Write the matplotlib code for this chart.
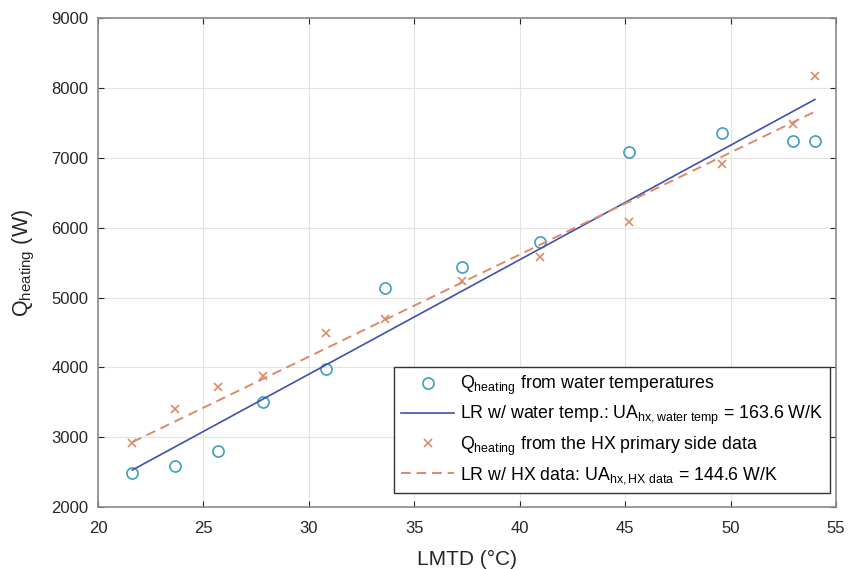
import matplotlib
matplotlib.use("Agg")
import matplotlib.pyplot as plt

# LMTD values (deg C) and heating rates (W)
lmtd = [21.63, 23.65, 25.7, 27.8, 30.8, 33.6, 37.25, 40.95, 45.2, 49.6, 52.95, 54.0]
q_water = [2480, 2590, 2800, 3500, 3980, 5140, 5440, 5800, 7090, 7360, 7240, 7240]
q_hx = [2910, 3410, 3720, 3870, 4490, 4690, 5240, 5580, 6090, 6920, 7490, 8180]

# regression line end points
lr_x = [21.63, 54.0]
lr_water = [2530, 7840]
lr_hx = [2930, 7665]

plt.rcParams['font.family'] = ['Liberation Sans', 'DejaVu Sans']
plt.rcParams['mathtext.fontset'] = 'custom'
plt.rcParams['mathtext.rm'] = 'Liberation Sans'
plt.rcParams['mathtext.it'] = 'Liberation Sans'
plt.rcParams['mathtext.default'] = 'regular'

fig = plt.figure(figsize=(8.51, 5.69), dpi=100)
ax = fig.add_axes([0.1152, 0.109, 0.8672, 0.8585])

ax.plot(lmtd, q_water, 'o', mfc='none', mec='#3f9fbf', ms=8, mew=1.2,
        label=r'Q$_{heating}$ from water temperatures')
ax.plot(lr_x, lr_water, '-', color='#4050b0', lw=1.2,
        label=r'LR w/ water temp.: UA$_{hx,water\ temp}$ = 163.6 W/K')
ax.plot(lmtd, q_hx, 'x', color='#dc8a68', ms=6, mew=1.2,
        label=r'Q$_{heating}$ from the HX primary side data')
ax.plot(lr_x, lr_hx, '--', color='#dc8a68', lw=1.4, dashes=(5, 3),
        label=r'LR w/ HX data: UA$_{hx,HX\ data}$ = 144.6 W/K')

ax.set_xlim(20, 55)
ax.set_ylim(2000, 9000)
ax.set_xticks(range(20, 56, 5))
ax.set_yticks(range(2000, 9001, 1000))
ax.grid(True, color='#e3e3e3', lw=0.8)
ax.set_axisbelow(True)
ax.tick_params(direction='in', length=4, labelsize=12, colors='#262626',
               top=True, right=True)
ax.tick_params(axis='x', pad=10)
ax.tick_params(axis='y', pad=7)
for s in ax.spines.values():
    s.set_color('#8a8a8a')
    s.set_linewidth(1.2)

ax.set_xlabel('LMTD (°C)', fontsize=15, color='#262626', labelpad=10)
ax.set_ylabel(r'Q$_{heating}$ (W)', fontsize=15.5, color='#262626', labelpad=10)

leg = ax.legend(loc='lower right', bbox_to_anchor=(0.992, 0.029), borderaxespad=0,
                fontsize=12.8, fancybox=False, edgecolor='#333333', framealpha=1,
                handlelength=3.0, labelspacing=0.4, borderpad=0.4, handletextpad=0.3)
leg.get_frame().set_linewidth(1.0)

fig.savefig('out.png', dpi=100)
